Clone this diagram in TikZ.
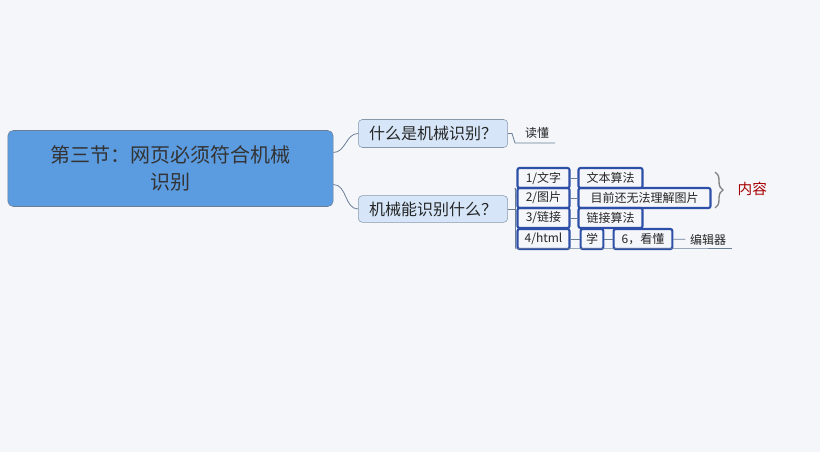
\documentclass[tikz,border=0pt]{standalone}
\usepackage{fontspec}
\setmainfont{Noto Sans CJK SC}
\usetikzlibrary{decorations.pathreplacing}
\definecolor{bg}{HTML}{F5F6FA}
\definecolor{mainf}{HTML}{5B9BE0}
\definecolor{subf}{HTML}{D6E6F8}
\definecolor{bord}{HTML}{2E4FA8}
\definecolor{lin}{HTML}{6A7E96}
\tikzset{x=0.75pt,y=-0.75pt,
 topic/.style={draw=lin!80,fill=subf,rounded corners=3pt,font=\fontsize{12}{14}\selectfont,inner sep=0pt,text=black!85},
 boxed/.style={draw=bord,line width=1.6pt,rounded corners=1.5pt,font=\fontsize{9}{11}\selectfont,inner sep=0pt,text=black!85},
 lbl/.style={font=\fontsize{9}{11}\selectfont,text=black!85},
 conn/.style={draw=lin,line width=0.6pt}}
\begin{document}
\begin{tikzpicture}
\fill[bg] (0,0) rectangle (820,452);
\useasboundingbox (0,0) rectangle (820,452);
\node[draw=lin,fill=mainf,rounded corners=4pt,minimum width=244pt,minimum height=57pt,align=center,font=\fontsize{15}{20}\selectfont,text=black!80] (main) at (170.5,168.5) {第三节：网页必须符合机械\\识别};
\node[topic,minimum width=112pt,minimum height=21pt] (a) at (433,133.5) {什么是机械识别？};
\node[topic,minimum width=112pt,minimum height=20pt] (b) at (433,209) {机械能识别什么？};
\draw[conn] (main.east) ++(0,-16) coordinate (m1) to[out=0,in=180] (a.west);
\draw[conn] (main.east) ++(0,16) coordinate (m2) to[out=0,in=180] (b.west);
\node[lbl] (r1) at (537,133) {读懂};
\draw[conn] (a.east) -- (512,133.5) -- (515,143) -- (555,143);
% children
\node[boxed,minimum width=39pt,minimum height=15pt] (c1) at (543.5,178) {1/文字};
\node[boxed,minimum width=48pt,minimum height=15pt] (d1) at (610.5,178) {文本算法};
\node[boxed,minimum width=39pt,minimum height=15pt] (c2) at (543.5,198) {2/图片};
\node[boxed,minimum width=99pt,minimum height=15pt] (d2) at (644.5,198) {目前还无法理解图片};
\node[boxed,minimum width=39pt,minimum height=15pt] (c3) at (543.5,218) {3/链接};
\node[boxed,minimum width=48pt,minimum height=15pt] (d3) at (610.5,218) {链接算法};
\node[boxed,minimum width=39pt,minimum height=15pt] (c4) at (543.5,239) {4/html};
\node[boxed,minimum width=17pt,minimum height=15pt] (d4) at (592,239) {学};
\node[boxed,minimum width=44pt,minimum height=15pt] (e4) at (643,239) {6，看懂};
\node[lbl] (f4) at (708,239.5) {编辑器};
\draw[conn] (b.east) -- (515,209);
\draw[conn] (515,188) -- (515,248);
\draw[conn] (515,188) -- (c2.west);
\draw[conn] (515,248) -- (685,248) -- (732,248);
\draw[conn] (c1) -- (d1); \draw[conn] (c2) -- (d2); \draw[conn] (c3) -- (d3);
\draw[conn] (c4) -- (d4); \draw[conn] (d4) -- (e4); \draw[conn] (e4) -- (f4);
\draw[gray,line width=1pt,decorate,decoration={brace,amplitude=6pt}] (715,172) -- (715,208) coordinate[midway] (bm);
\node[text=red!65!black,font=\fontsize{11}{13}\selectfont,anchor=west] (nr) at (733,189) {内容};
\end{tikzpicture}
\end{document}
